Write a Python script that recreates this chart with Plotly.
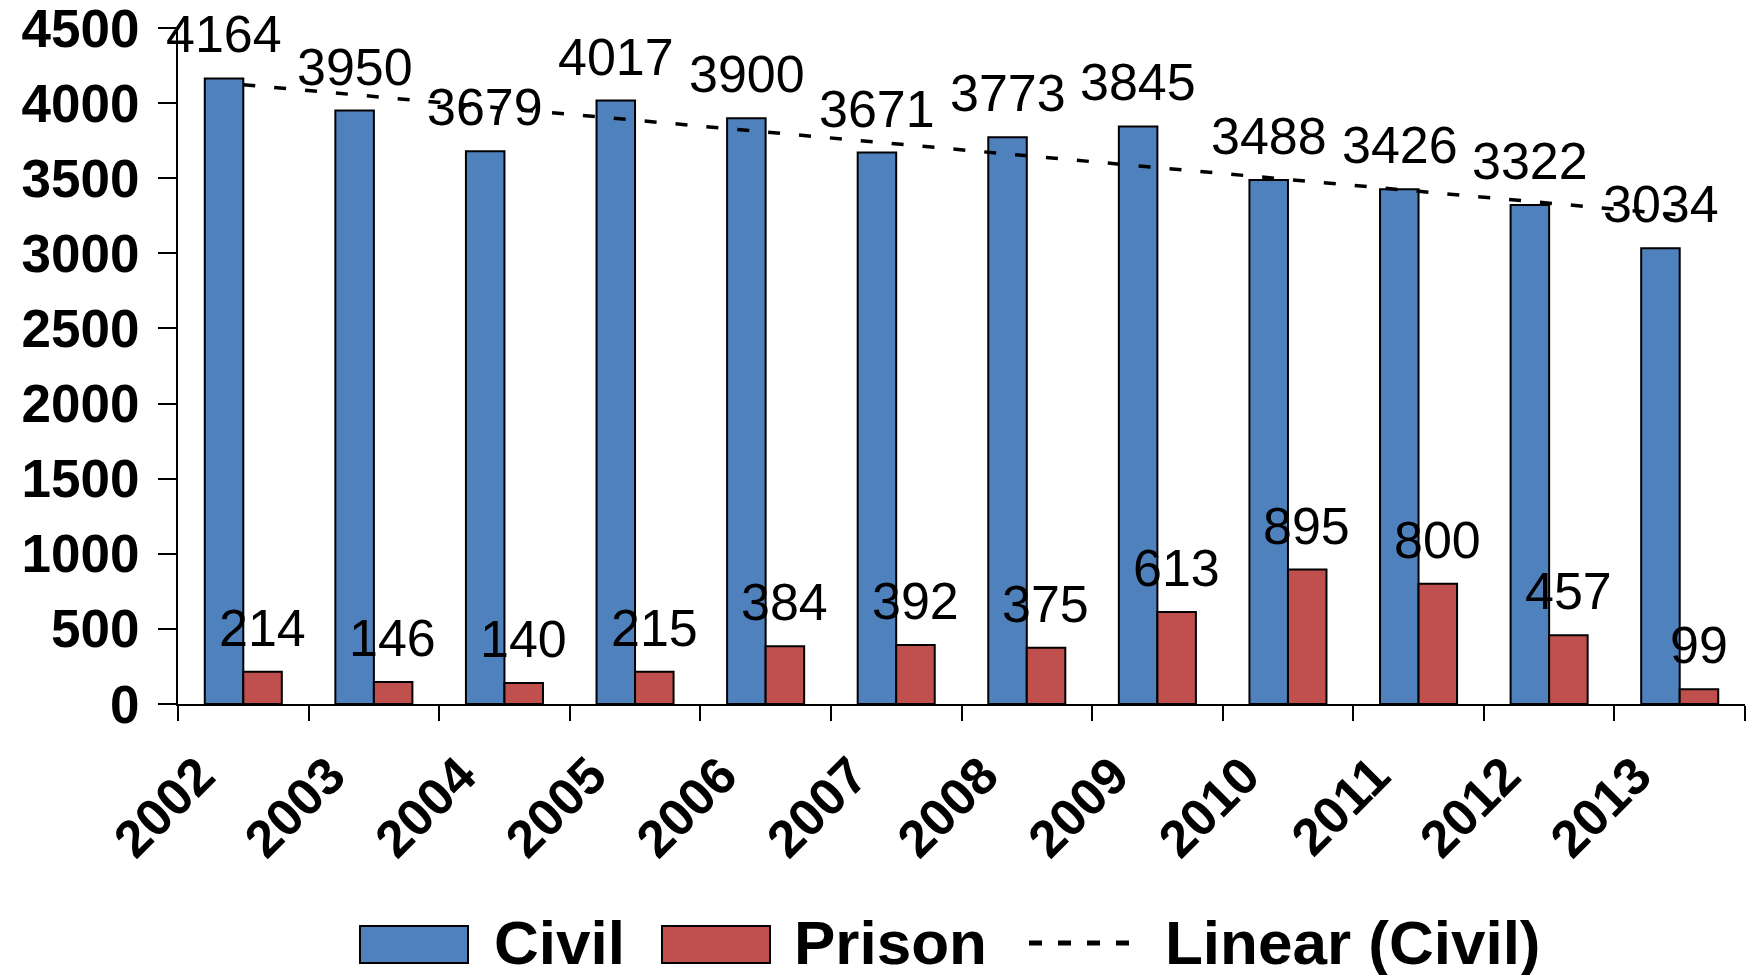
import numpy as np
import plotly.graph_objects as go

years = ["2002", "2003", "2004", "2005", "2006", "2007",
         "2008", "2009", "2010", "2011", "2012", "2013"]
civil = [4164, 3950, 3679, 4017, 3900, 3671, 3773, 3845, 3488, 3426, 3322, 3034]
prison = [214, 146, 140, 215, 384, 392, 375, 613, 895, 800, 457, 99]

BLUE = "#4F81BD"
RED = "#C0504D"
FONT = "Liberation Sans"
OFF = 8  # default body margin of the page
W, H = 1754 - OFF, 975 - OFF

# linear trendline of the civil series (least squares, like Excel's "Linear")
slope, intercept = np.polyfit(np.arange(len(civil)), civil, 1)
trend = intercept + slope * np.arange(len(civil))

fig = go.Figure()
fig.add_trace(go.Bar(x=years, y=civil, name="Civil",
                     marker=dict(color=BLUE, line=dict(color="black", width=2))))
fig.add_trace(go.Bar(x=years, y=prison, name="Prison",
                     marker=dict(color=RED, line=dict(color="black", width=2))))
fig.add_trace(go.Scatter(x=years, y=trend, mode="lines", name="Linear (Civil)",
                         line=dict(color="black", width=3.5, dash="12px,19px")))

# value labels above the bars (x given as category index)
annotations = []
for i, (c, p) in enumerate(zip(civil, prison)):
    for val, shift in ((c, -19), (p, 19)):
        annotations.append(dict(x=i, y=val, text=str(val), showarrow=False,
                                xshift=shift, yshift=13, yanchor="bottom",
                                font=dict(family=FONT, size=52, color="black")))

# page pixel -> paper fraction
def fx(px):
    return (px - OFF) / W

def fy(py):
    return 1 - (py - OFF) / H

# hand-made legend at the bottom
shapes = [
    dict(type="rect", xref="paper", yref="paper", x0=fx(360), x1=fx(468), y0=fy(963), y1=fy(926),
         fillcolor=BLUE, line=dict(color="black", width=2)),
    dict(type="rect", xref="paper", yref="paper", x0=fx(662), x1=fx(770), y0=fy(963), y1=fy(926),
         fillcolor=RED, line=dict(color="black", width=2)),
    dict(type="line", xref="paper", yref="paper", x0=fx(1029), x1=fx(1141), y0=fy(943), y1=fy(943),
         line=dict(color="black", width=5, dash="13px,16px")),
]
for label, left in (("Civil", 492), ("Prison", 792), ("Linear (Civil)", 1163)):
    annotations.append(dict(xref="paper", yref="paper", x=fx(left), y=fy(942), text=label,
                            showarrow=False, xanchor="left", yanchor="middle",
                            font=dict(family=FONT, size=62, color="black", weight="bold")))

fig.update_layout(
    width=W, height=H,
    margin=dict(l=0, r=0, t=0, b=0, autoexpand=False),
    plot_bgcolor="white", paper_bgcolor="white",
    showlegend=False,
    barmode="group", bargap=0.41, bargroupgap=0,
    annotations=annotations, shapes=shapes,
    xaxis=dict(domain=[fx(178), fx(1745)], type="category", showgrid=False,
               range=[-0.5, len(years) - 0.5], automargin=False,
               showline=True, linecolor="black", linewidth=2,
               ticks="outside", ticklen=15, tickwidth=2, tickcolor="black",
               tickson="boundaries", tickangle=-45,
               ticklabelshift=-44, ticklabelstandoff=18,
               ticklabeloverflow="allow",
               tickfont=dict(family=FONT, size=52, color="black", weight="bold")),
    yaxis=dict(domain=[fy(704), fy(28)], range=[0, 4500], tick0=0, dtick=500,
               showgrid=False, zeroline=False, automargin=False,
               showline=True, linecolor="black", linewidth=2,
               ticks="outside", ticklen=18, tickwidth=2, tickcolor="black",
               ticklabelstandoff=8, ticklabeloverflow="allow",
               tickfont=dict(family=FONT, size=53, color="black", weight="bold")),
)

fig.write_html("out.html")
